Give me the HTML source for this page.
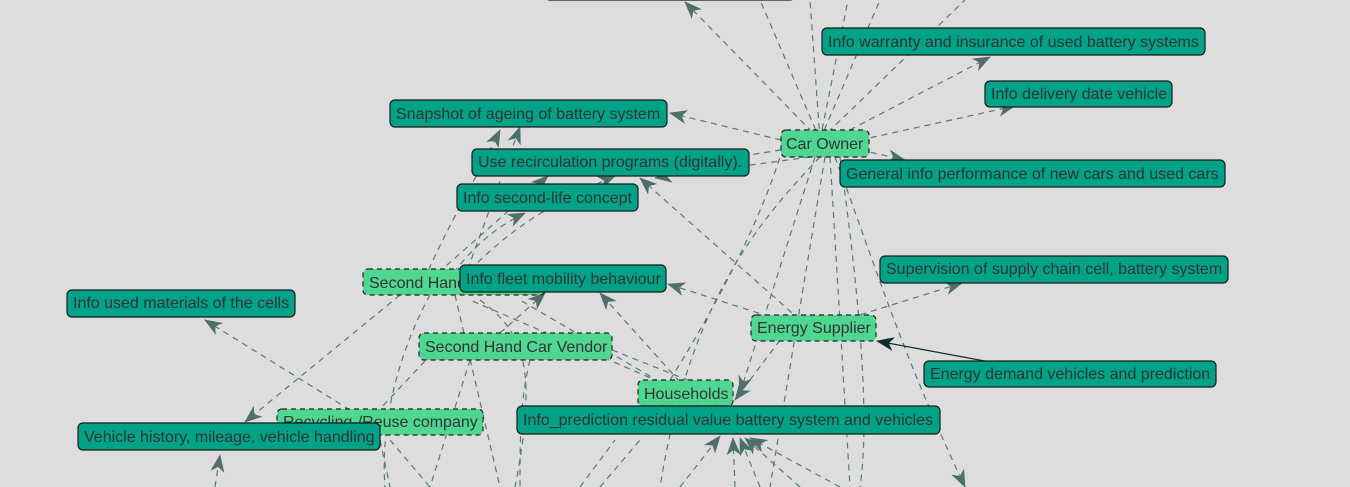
<!DOCTYPE html>
<html><head><meta charset="utf-8"><style>
html,body{margin:0;padding:0;background:#dddddd;}
svg{display:block;font-family:"Liberation Sans",sans-serif;}
.e{fill:none;stroke:#5a7876;stroke-width:1.2;stroke-dasharray:6 5;}
.d rect{fill:#00a388;stroke:#1a1a1a;stroke-width:1.2;}
.l rect{fill:#4fd690;stroke:#222;stroke-width:1.2;stroke-dasharray:5 4;}
text{font-size:16px;fill:#333;}
</style></head><body>
<svg width="1350" height="487" viewBox="0 0 1350 487">
<defs>
<marker id="a" markerWidth="18" markerHeight="14" refX="17" refY="7" orient="auto" markerUnits="userSpaceOnUse">
<path d="M0,0 L18,7 L0,14 L5,7 Z" fill="#4f6f6d"/></marker>
<marker id="b" markerWidth="18" markerHeight="14" refX="17" refY="7" orient="auto" markerUnits="userSpaceOnUse">
<path d="M0,0 L18,7 L0,14 L5,7 Z" fill="#0f2f2d"/></marker>
</defs>
<g>
<path class="e" d="M820,140 L685,2" marker-end="url(#a)"/>
<path class="e" d="M820,140 L760,0"/>
<path class="e" d="M820,140 L810,0"/>
<path class="e" d="M820,140 L848,0"/>
<path class="e" d="M820,140 L880,0"/>
<path class="e" d="M820,140 L965,0"/>
<path class="e" d="M840,135 L990,57" marker-end="url(#a)"/>
<path class="e" d="M860,140 L1015,106" marker-end="url(#a)"/>
<path class="e" d="M781,140 L670,113" marker-end="url(#a)"/>
<path class="e" d="M860,150 L905,160" marker-end="url(#a)"/>
<path class="e" d="M781,150 L749,155"/>
<path class="e" d="M810,157 L655,178" marker-end="url(#a)"/>
<path class="e" d="M820,157 C760,220 690,300 660,487"/>
<path class="e" d="M825,157 L770,487"/>
<path class="e" d="M830,157 L850,487"/>
<path class="e" d="M835,157 C870,250 900,350 965,487" marker-end="url(#a)"/>
<path class="e" d="M840,157 C860,300 870,420 860,487"/>
<path class="e" d="M815,157 L740,393" marker-end="url(#a)"/>
<path class="e" d="M800,320 L640,178" marker-end="url(#a)"/>
<path class="e" d="M780,320 L668,284" marker-end="url(#a)"/>
<path class="e" d="M850,318 L962,283" marker-end="url(#a)"/>
<path class="e" d="M780,340 L735,400" marker-end="url(#a)"/>
<path class="e" d="M990,362 L877,341" marker-end="url(#b)" style="stroke:#0f2f2d;stroke-dasharray:none"/>
<path class="e" d="M680,382 L600,293" marker-end="url(#a)"/>
<path class="e" d="M660,382 L520,300"/>
<path class="e" d="M660,382 L470,300"/>
<path class="e" d="M670,380 C720,300 760,220 780,157"/>
<path class="e" d="M420,290 C440,240 470,190 500,130" marker-end="url(#a)"/>
<path class="e" d="M440,290 C470,250 490,230 525,213" marker-end="url(#a)"/>
<path class="e" d="M460,290 L520,127" marker-end="url(#a)"/>
<path class="e" d="M430,280 L548,176" marker-end="url(#a)"/>
<path class="e" d="M470,270 C520,220 560,200 615,176" marker-end="url(#a)"/>
<path class="e" d="M400,295 L245,422" marker-end="url(#a)"/>
<path class="e" d="M430,295 C400,350 380,420 385,487"/>
<path class="e" d="M455,295 L500,487"/>
<path class="e" d="M480,300 C520,330 540,360 515,487"/>
<path class="e" d="M440,345 L365,425"/>
<path class="e" d="M500,333 L545,293" marker-end="url(#a)"/>
<path class="e" d="M470,360 L430,487"/>
<path class="e" d="M530,360 C520,400 520,440 520,487"/>
<path class="e" d="M612,350 L700,385"/>
<path class="e" d="M350,410 L205,320" marker-end="url(#a)"/>
<path class="e" d="M390,440 L430,487"/>
<path class="e" d="M380,440 L390,487"/>
<path class="e" d="M215,487 L220,455" marker-end="url(#a)"/>
<path class="e" d="M580,487 L615,440"/>
<path class="e" d="M600,487 L640,440"/>
<path class="e" d="M680,487 L720,436" marker-end="url(#a)"/>
<path class="e" d="M735,487 L733,438" marker-end="url(#a)"/>
<path class="e" d="M760,487 L740,438" marker-end="url(#a)"/>
<path class="e" d="M800,487 L745,438" marker-end="url(#a)"/>
<path class="e" d="M840,487 L750,438" marker-end="url(#a)"/>
</g>
<g class="d"><rect x="545" y="-20" width="250" height="20" rx="5"/></g>
<g class="d"><rect x="822" y="28" width="383" height="27" rx="5"/><text x="828" y="47">Info warranty and insurance of used battery systems</text></g>
<g class="d"><rect x="985" y="81" width="187" height="26" rx="5"/><text x="991" y="99">Info delivery date vehicle</text></g>
<g class="d"><rect x="390" y="100" width="277" height="27" rx="5"/><text x="396" y="119">Snapshot of ageing of battery system</text></g>
<g class="l"><rect x="781" y="130" width="88" height="27" rx="5"/><text x="786" y="149">Car Owner</text></g>
<g class="d"><rect x="472" y="149" width="277" height="27" rx="5"/><text x="478" y="167">Use recirculation programs (digitally).</text></g>
<g class="d"><rect x="840" y="160" width="385" height="27" rx="5"/><text x="846" y="179">General info performance of new cars and used cars</text></g>
<g class="d"><rect x="457" y="184" width="181" height="27" rx="5"/><text x="463" y="203">Info second-life concept</text></g>
<g class="d"><rect x="880" y="256" width="348" height="27" rx="5"/><text x="886" y="274">Supervision of supply chain cell, battery system</text></g>
<g class="l"><rect x="363" y="269" width="182" height="26" rx="5"/><text x="369" y="288">Second Hand</text></g>
<g class="d"><rect x="460" y="265" width="206" height="27" rx="5"/><text x="466" y="284">Info fleet mobility behaviour</text></g>
<g class="d"><rect x="67" y="290" width="228" height="27" rx="5"/><text x="73" y="308">Info used materials of the cells</text></g>
<g class="l"><rect x="751" y="315" width="125" height="26" rx="5"/><text x="757" y="333">Energy Supplier</text></g>
<g class="l"><rect x="419" y="333" width="193" height="27" rx="5"/><text x="425" y="352">Second Hand Car Vendor</text></g>
<g class="d"><rect x="924" y="361" width="292" height="26" rx="5"/><text x="930" y="379">Energy demand vehicles and prediction</text></g>
<g class="l"><rect x="638" y="380" width="95" height="26" rx="5"/><text x="644" y="399">Households</text></g>
<g class="d"><rect x="517" y="406" width="423" height="28" rx="5"/><text x="523" y="425">Info_prediction residual value battery system and vehicles</text></g>
<g class="l"><rect x="277" y="409" width="206" height="26" rx="5"/><text x="283" y="427">Recycling-/Reuse company</text></g>
<g class="d"><rect x="78" y="423" width="302" height="27" rx="5"/><text x="84" y="442">Vehicle history, mileage, vehicle handling</text></g>
</svg>
</body></html>
